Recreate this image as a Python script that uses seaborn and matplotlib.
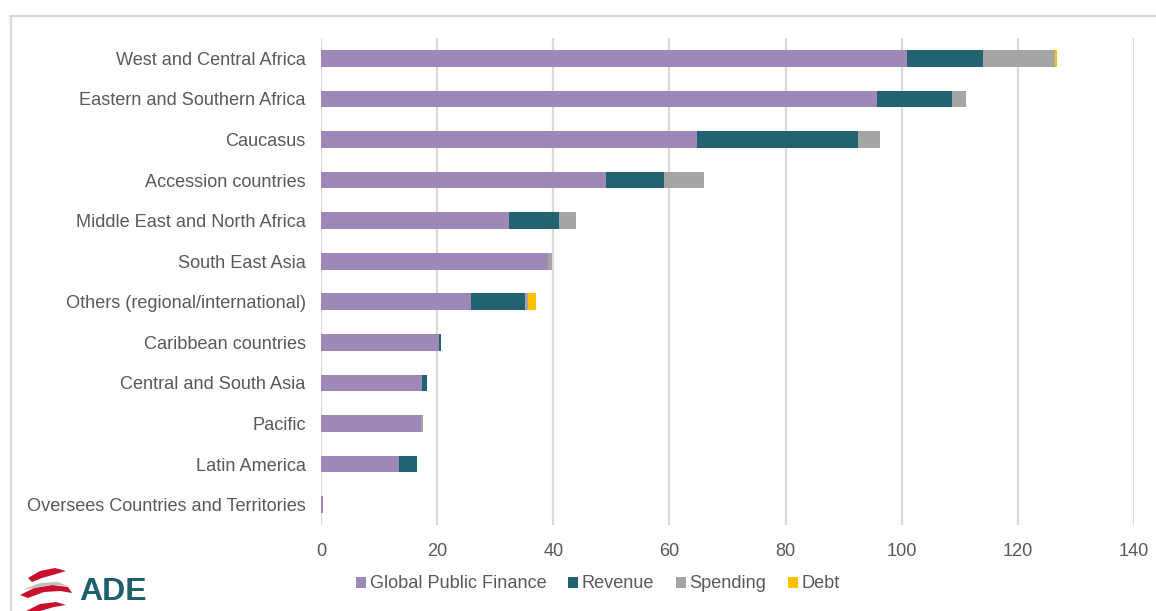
import numpy as np
import pandas as pd
import matplotlib
matplotlib.use("Agg")
import matplotlib.pyplot as plt
from matplotlib.patches import Patch, Polygon
import seaborn as sns

categories = [
    "West and Central Africa",
    "Eastern and Southern Africa",
    "Caucasus",
    "Accession countries",
    "Middle East and North Africa",
    "South East Asia",
    "Others (regional/international)",
    "Caribbean countries",
    "Central and South Asia",
    "Pacific",
    "Latin America",
    "Oversees Countries and Territories",
]
global_public_finance = [100.9, 95.7, 64.7, 49.0, 32.4, 39.1, 25.8, 20.3, 17.4, 17.2, 13.5, 0.3]
revenue = [13.1, 13.0, 27.7, 10.0, 8.6, 0.0, 9.4, 0.3, 0.9, 0.0, 3.0, 0.0]
spending = [12.4, 2.4, 3.8, 6.9, 2.9, 0.7, 0.5, 0.0, 0.0, 0.3, 0.0, 0.0]
debt = [0.3, 0.0, 0.0, 0.0, 0.0, 0.0, 1.3, 0.0, 0.0, 0.0, 0.0, 0.0]
x_ticks = [0, 20, 40, 60, 80, 100, 120, 140]

series_names = ["Global Public Finance", "Revenue", "Spending", "Debt"]
series_colors = ["#9E88B8", "#236270", "#A5A5A5", "#FFC000"]

text_color = "#595959"
grid_color = "#D9D9D9"

sns.set_theme(style="white")
plt.rcParams["font.family"] = ["Liberation Sans", "DejaVu Sans"]

df = pd.DataFrame({
    "category": categories,
    series_names[0]: global_public_finance,
    series_names[1]: revenue,
    series_names[2]: spending,
    series_names[3]: debt,
})
cum = df[series_names].cumsum(axis=1)

fig = plt.figure(figsize=(11.56, 6.11), dpi=100)
ax = fig.add_axes([321 / 1156, 86 / 611, 813 / 1156, 487 / 611])

# stacked bars: draw cumulative totals back to front
for name, color in reversed(list(zip(series_names, series_colors))):
    sns.barplot(x=cum[name], y=df["category"], orient="h", color=color,
                width=0.41, saturation=1, linewidth=0, ax=ax, zorder=3)

ax.set_xlim(0, 140)
ax.set_ylim(11.5, -0.5)
ax.set_xticks(x_ticks)
ax.set_xticklabels([str(t) for t in x_ticks])
ax.set_xlabel("")
ax.set_ylabel("")
ax.xaxis.grid(True, color=grid_color, linewidth=1.6, zorder=0)
ax.yaxis.grid(False)
ax.set_axisbelow(True)
for s in ax.spines.values():
    s.set_visible(False)
ax.tick_params(axis="y", length=0, pad=11, labelsize=13.1, labelcolor=text_color)
ax.tick_params(axis="x", length=0, pad=13, labelsize=13.1, labelcolor=text_color)

handles = [Patch(facecolor=c, edgecolor="none", label=n)
           for n, c in zip(series_names, series_colors)]
fig.legend(handles=handles, loc="center", bbox_to_anchor=(598 / 1156, 1 - 584 / 611),
           ncol=4, frameon=False, fontsize=13.1, handlelength=0.55, handleheight=0.55,
           handletextpad=0.2, columnspacing=1.2, labelcolor=text_color)

# outer chart frame
fig.add_artist(plt.Line2D([10 / 1156, 1.01], [1 - 15.5 / 611] * 2, transform=fig.transFigure,
                          color=grid_color, linewidth=1.6))
fig.add_artist(plt.Line2D([10.5 / 1156] * 2, [-0.01, 1 - 15.5 / 611], transform=fig.transFigure,
                          color=grid_color, linewidth=1.6))

# ADE logo
def px(x, y):
    return (x / 1156, 1 - y / 611)

red = "#C8102E"
swooshes = [
    [(28, 578), (40, 571), (55, 568), (66, 571), (56, 574), (42, 578), (32, 582)],
    [(20, 595), (34, 588), (52, 585), (68, 587), (72, 593), (60, 591), (44, 592), (28, 598)],
    [(26, 611), (40, 604), (56, 602), (66, 605), (54, 607), (40, 611)],
]
for pts in swooshes:
    fig.add_artist(Polygon([px(*p) for p in pts], closed=True, transform=fig.transFigure,
                           facecolor=red, edgecolor="none"))
fig.add_artist(Polygon([px(*p) for p in [(22, 590), (40, 583), (58, 582), (68, 586), (52, 585), (34, 588)]],
                       closed=True, transform=fig.transFigure, facecolor="#BFBFBF", edgecolor="none"))
fig.text(*px(79, 592), "ADE", ha="left", va="center", fontsize=23, fontweight="bold",
         color="#1D5F6E", family=["Liberation Sans", "DejaVu Sans"])

fig.savefig("out.png", dpi=100, facecolor="white")
